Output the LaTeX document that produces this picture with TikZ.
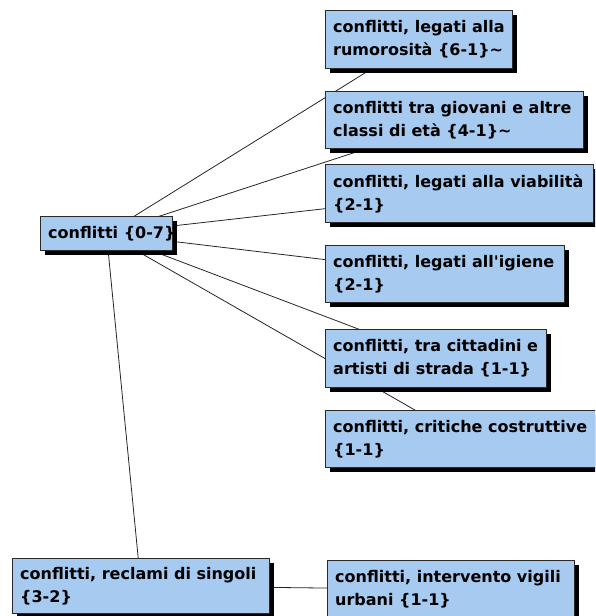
\documentclass[tikz,border=0pt]{standalone}
\usepackage{fontspec}
\setmainfont{DejaVu Sans}
\usetikzlibrary{backgrounds,calc}
\definecolor{boxfill}{HTML}{A6CAF0}
\definecolor{boxedge}{HTML}{2A2A2A}
\tikzset{
  topic/.style={draw=boxedge, line width=0.9pt, fill=boxfill, anchor=north west,
    inner sep=0pt},
  topiclabel/.style={anchor=west, inner sep=0pt, align=left,
    font=\bfseries\fontsize{16}{23}\selectfont, text=black},
  link/.style={draw=black!85, line width=0.8pt},
}
% draws a topic box with its drop shadow: #1 name, #2 corner, #3 width, #4 height, #5 text
\newcommand{\topicbox}[5]{%
  \fill[black] ($#2+(4.5,4.5)$) rectangle ++(#3,#4);
  \node[topic, minimum width=#3pt, minimum height=#4pt] (#1) at #2 {};
  \node[topiclabel] (#1-text) at ($(#1.west)+(8,0)$) {#5};
}
\begin{document}
\begin{tikzpicture}[x=1pt,y=-1pt]
\useasboundingbox (0,0) rectangle (595,616);
\clip (0,0) rectangle (595,616);

\topicbox{root}{(40,216)}{132}{34}{conflitti \{0-7\}}
\topicbox{rum}{(325,10)}{187}{58}{conflitti, legati alla\\rumorosità \{6-1\}\textasciitilde}
\topicbox{gio}{(325,91)}{258}{57}{conflitti tra giovani e altre\\classi di età \{4-1\}\textasciitilde}
\topicbox{via}{(325,164)}{268}{58}{conflitti, legati alla viabilità\\\{2-1\}}
\topicbox{igi}{(325,245)}{239}{57}{conflitti, legati all\textquotesingle igiene\\\{2-1\}}
\topicbox{cit}{(325,329)}{221}{58}{conflitti, tra cittadini e\\artisti di strada \{1-1\}}
\topicbox{cri}{(325,410)}{280}{57}{conflitti, critiche costruttive\\\{1-1\}}
\topicbox{vig}{(327,560)}{247}{58}{conflitti, intervento vigili\\urbani \{1-1\}}
\topicbox{rec}{(12,558)}{257}{55}{conflitti, reclami di singoli\\\{3-2\}}

\begin{scope}[on background layer]
  \fill[white] (0,0) rectangle (595,616);
  \draw[link] (root.center) -- (rum.center);
  \draw[link] (root.center) -- (gio.center);
  \draw[link] (root.center) -- (via.center);
  \draw[link] (root.center) -- (igi.center);
  \draw[link] (root.center) -- (cit.center);
  \draw[link] (root.center) -- (cri.center);
  \draw[link] (root.center) -- (rec.center);
  \draw[link] (rec.center) -- (vig.center);
\end{scope}
\end{tikzpicture}
\end{document}
